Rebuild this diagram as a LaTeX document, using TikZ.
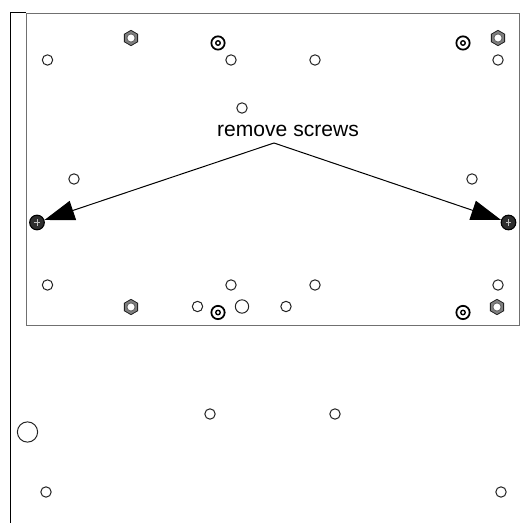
\documentclass[tikz,border=0pt]{standalone}
\usepackage{fontspec}
\setmainfont{Liberation Sans}
\usetikzlibrary{arrows.meta,shapes.geometric}
\definecolor{edgegray}{HTML}{707070}
\definecolor{holeink}{HTML}{222222}
\tikzset{
  x=0.75pt,y=-0.75pt,
  hole/.style={circle,draw=holeink,line width=0.75pt,fill=white,inner sep=0pt,minimum size=7.8pt},
  midhole/.style={hole,minimum size=10pt},
  bighole/.style={hole,minimum size=15.2pt},
  nut/.style={regular polygon,regular polygon sides=6,shape border rotate=30,draw=holeink,fill=gray,line width=0.6pt,inner sep=0pt,minimum size=11.5pt,
    path picture={\draw[holeink!70,line width=0.7pt,fill=white] (path picture bounding box.center) circle (3.1pt);}},
  target/.style={circle,draw=black,line width=1.3pt,fill=white,inner sep=0pt,minimum size=10pt,
    path picture={\draw[black,line width=1pt] (path picture bounding box.center) circle (1.7pt);}},
  screw/.style={circle,draw=black,line width=0.8pt,fill=black!82,inner sep=0pt,minimum size=11pt,
    path picture={\draw[white!75!black,line width=0.3pt] (path picture bounding box.center) +(-2pt,0) -- +(2pt,0) +(0,-2.6pt) -- +(0,2.6pt);}},
  callout/.style={-{Triangle[length=22.5pt,width=15pt]},black,line width=0.75pt},
  frameline/.style={black,line width=0.75pt},
  plate/.style={edgegray,line width=0.65pt}
}
\begin{document}
\begin{tikzpicture}
\useasboundingbox (0,0) rectangle (525,523);
\fill[white] (0,0) rectangle (525,523);
% frame
\coordinate (ftop) at (10,13);
\coordinate (fbot) at (10,523);
\coordinate (ptl) at (26,13);
\coordinate (ptr) at (519,13);
\coordinate (pbr) at (519,325);
\coordinate (pbl) at (26,325);
\draw[frameline] (ftop) -- (fbot);
\draw[frameline] (ftop) -- (ptl);
\draw[plate] (ptl) -- (ptr) -- (pbr) -- (pbl) -- cycle;
% holes
\foreach \n/\a/\b in {a/47.5/60,b/231/60,c/315/60,d/498/60,e/242/108,f/74/179,g/472/179,
  h/47.5/285,i/231/285,j/315/285,k/498/285,l/197.5/306.5,m/286/306.5,n/210/414,o/335/414,p/46/492,q/501/492}
  \node[hole] (hole\n) at (\a,\b) {};
\node[midhole] (holeA) at (242,306.5) {};
\node[bighole] (holeB) at (27.5,432) {};
% nuts
\node[nut] (nut1) at (131,38) {};
\node[nut] (nut2) at (498,38) {};
\node[nut] (nut3) at (131,307) {};
\node[nut] (nut4) at (497,307) {};
% targets
\node[target] (tg1) at (218,43) {};
\node[target] (tg2) at (463,43) {};
\node[target] (tg3) at (218,312.5) {};
\node[target] (tg4) at (463,312.5) {};
% screws
\node[screw] (scL) at (37,222.5) {};
\node[screw] (scR) at (508.5,222.5) {};
% label
\node[inner sep=0pt,font=\fontsize{15.8pt}{18pt}\selectfont] (lab) at (288,131) {remove screws};
\coordinate (apex) at (274,143);
\draw[callout] (apex) -- (scL);
\draw[callout] (apex) -- (scR);
\end{tikzpicture}
\end{document}
